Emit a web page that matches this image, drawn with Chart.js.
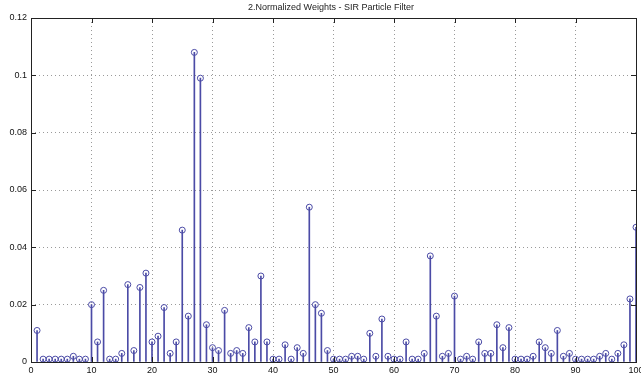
<!DOCTYPE html>
<html>
<head>
<meta charset="utf-8">
<script src="https://cdn.jsdelivr.net/npm/chart.js@4/dist/chart.umd.min.js"></script>
<style>
html,body{margin:0;padding:0;background:#fff;}
#wrap{width:641px;height:376px;position:relative;}
</style>
</head>
<body>
<div id="wrap"><canvas id="c" width="641" height="376"></canvas></div>
<script>
const particles = [];
for (let i = 1; i <= 100; i++) particles.push(i);
const weights = [
  0.011, 0.001, 0.001, 0.001, 0.001, 0.001, 0.002, 0.001, 0.001, 0.020,
  0.007, 0.025, 0.001, 0.001, 0.003, 0.027, 0.004, 0.026, 0.031, 0.007,
  0.009, 0.019, 0.003, 0.007, 0.046, 0.016, 0.108, 0.099, 0.013, 0.005,
  0.004, 0.018, 0.003, 0.004, 0.003, 0.012, 0.007, 0.030, 0.007, 0.001,
  0.001, 0.006, 0.001, 0.005, 0.003, 0.054, 0.020, 0.017, 0.004, 0.001,
  0.001, 0.001, 0.002, 0.002, 0.001, 0.010, 0.002, 0.015, 0.002, 0.001,
  0.001, 0.007, 0.001, 0.001, 0.003, 0.037, 0.016, 0.002, 0.003, 0.023,
  0.001, 0.002, 0.001, 0.007, 0.003, 0.003, 0.013, 0.005, 0.012, 0.001,
  0.001, 0.001, 0.002, 0.007, 0.005, 0.003, 0.011, 0.002, 0.003, 0.001,
  0.001, 0.001, 0.001, 0.002, 0.003, 0.001, 0.003, 0.006, 0.022, 0.047
];
const xTicks = [0, 10, 20, 30, 40, 50, 60, 70, 80, 90, 100];
const yTicks = [0, 0.02, 0.04, 0.06, 0.08, 0.1, 0.12];
const yTickLabels = ['0', '0.02', '0.04', '0.06', '0.08', '0.1', '0.12'];
const titleText = '2.Normalized Weights - SIR Particle Filter';

const stemColor = '#4b4ba6';
const points = particles.map((p, i) => ({x: p, y: weights[i]}));

const boxPlugin = {
  id: 'boxPlugin',
  afterDatasetsDraw(chart) {
    const ctx = chart.ctx, a = chart.chartArea;
    const xs = chart.scales.x, ys = chart.scales.y;
    ctx.save();
    ctx.strokeStyle = '#222';
    ctx.lineWidth = 1;
    ctx.strokeRect(Math.round(a.left) + 0.5, Math.round(a.top) + 0.5,
                   Math.round(a.right - a.left), Math.round(a.bottom - a.top));
    ctx.beginPath();
    xTicks.forEach(v => {
      const px = Math.round(xs.getPixelForValue(v)) + 0.5;
      ctx.moveTo(px, a.bottom); ctx.lineTo(px, a.bottom - 5);
      ctx.moveTo(px, a.top); ctx.lineTo(px, a.top + 5);
    });
    yTicks.forEach(v => {
      const py = Math.round(ys.getPixelForValue(v)) + 0.5;
      ctx.moveTo(a.left, py); ctx.lineTo(a.left + 5, py);
      ctx.moveTo(a.right, py); ctx.lineTo(a.right - 5, py);
    });
    ctx.stroke();
    ctx.fillStyle = '#222';
    ctx.font = '9px "Liberation Sans", Arial, sans-serif';
    ctx.textAlign = 'center';
    ctx.textBaseline = 'middle';
    ctx.fillText(titleText, 331, 8);
    ctx.restore();
  }
};

new Chart(document.getElementById('c'), {
  type: 'bar',
  data: {
    datasets: [
      {
        type: 'bar',
        data: points,
        backgroundColor: stemColor,
        borderWidth: 0,
        barThickness: 1,
        order: 2
      },
      {
        type: 'scatter',
        data: points,
        showLine: false,
        pointStyle: 'circle',
        pointRadius: 3,
        pointBorderWidth: 1,
        pointBorderColor: stemColor,
        pointBackgroundColor: 'rgba(255,255,255,0)',
        order: 1
      }
    ]
  },
  options: {
    responsive: false,
    animation: false,
    devicePixelRatio: 1,
    layout: {padding: {top: 18, right: 0, left: 0, bottom: 0}},
    plugins: {legend: {display: false}, tooltip: {enabled: false}, title: {display: false}},
    scales: {
      x: {
        type: 'linear',
        min: 0, max: 100,
        offset: false,
        grid: {offset: false, color: '#9a9a9a', drawTicks: false, tickBorderDash: [1, 2]},
        border: {display: false, dash: [1, 3]},
        ticks: {
          stepSize: 10, autoSkip: false, maxRotation: 0, padding: 3,
          color: '#111', font: {size: 9, family: '"Liberation Sans", Arial, sans-serif'},
          callback: v => String(v)
        },
        afterBuildTicks(s) { s.ticks = xTicks.map(v => ({value: v})); },
        afterFit(s) { s.height = 14; s.paddingLeft = 0; s.paddingRight = 0; }
      },
      y: {
        min: 0, max: 0.12,
        grid: {color: '#9a9a9a', drawTicks: false},
        border: {display: false, dash: [1, 3]},
        ticks: {
          padding: 4,
          color: '#111', font: {size: 9, family: '"Liberation Sans", Arial, sans-serif'},
          callback: (v, i) => yTickLabels[i]
        },
        afterBuildTicks(s) { s.ticks = yTicks.map(v => ({value: v})); },
        afterFit(s) { s.width = 31; s.paddingTop = 0; s.paddingBottom = 0; }
      }
    }
  },
  plugins: [boxPlugin]
});
</script>
</body>
</html>
